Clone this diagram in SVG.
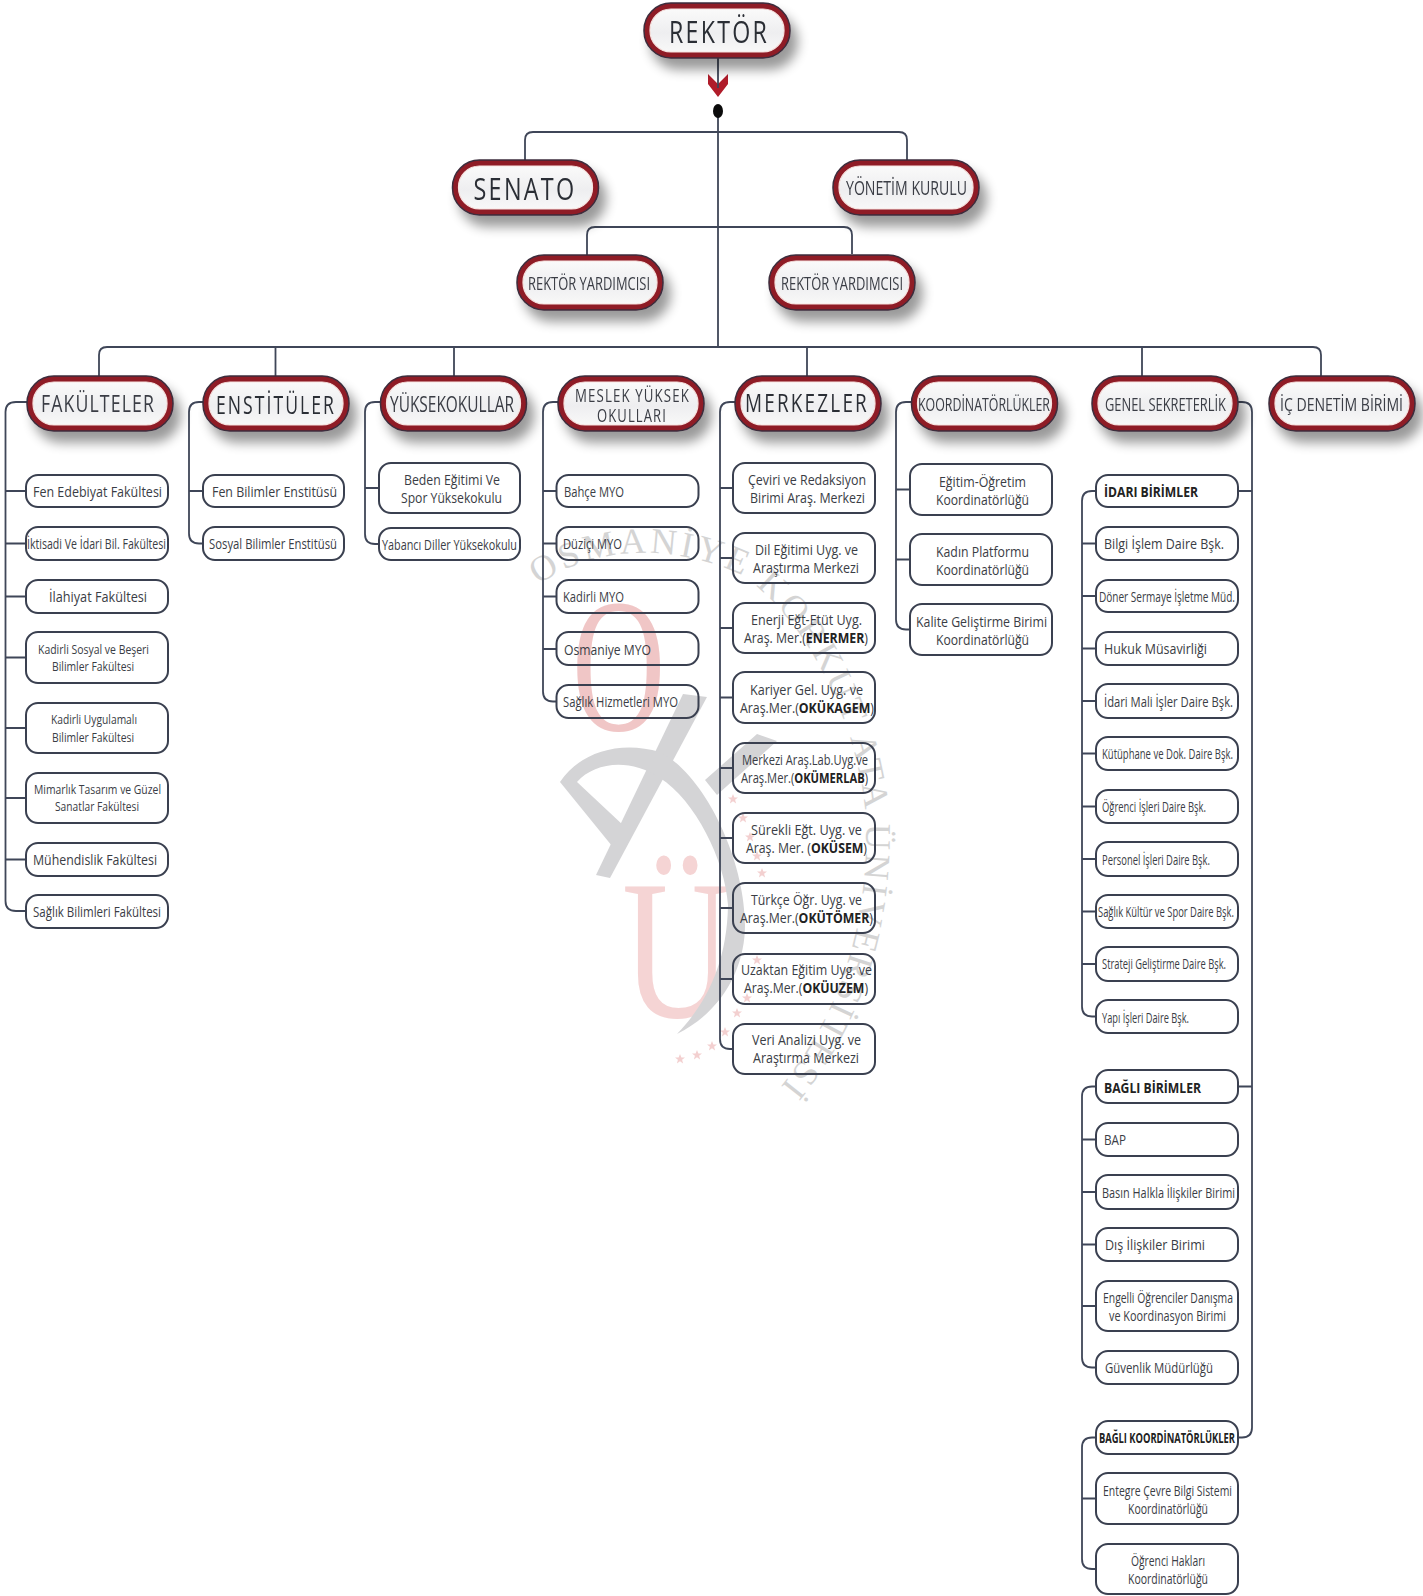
<svg xmlns="http://www.w3.org/2000/svg" xmlns:xlink="http://www.w3.org/1999/xlink" width="1423" height="1596" viewBox="0 0 1423 1596">
<style>
text{font-family:"Open Sans","Noto Sans","Liberation Sans",sans-serif;fill:#3a3d45}
.b{fill:#2b2e35;letter-spacing:3px}
.t{letter-spacing:1.5px}
.l{font-size:14.5px}
.s{font-size:13.5px}
.lead{fill:none;stroke:#3a4050;stroke-width:2}
.c{fill:none;stroke:#3f4658;stroke-width:1.8}
.o{fill:#8f1a26;stroke:#3c2d3c;stroke-width:1.5}
.i{fill:url(#g);stroke:#f7e4e0;stroke-width:1.2}
text.wm{font-family:"Liberation Serif",serif}
text.wo{fill:#f0c6c6}
text.wu{fill:#f5d4d4}
text.wr{fill:#d4d4d4;letter-spacing:3.5px;font-size:36px}
.st{fill:#f3d0d0}
tspan.h{font-weight:700;fill:#222}
</style>
<defs>
<linearGradient id="g" x1="0" y1="0" x2="0" y2="1"><stop offset="0" stop-color="#fafafa"/><stop offset=".55" stop-color="#eeeef0"/><stop offset="1" stop-color="#f8f8f8"/></linearGradient>
<filter id="sh" x="-20%" y="-30%" width="150%" height="190%"><feGaussianBlur in="SourceAlpha" stdDeviation="6"/><feOffset dx="7" dy="11"/><feComponentTransfer><feFuncA type="linear" slope=".4"/></feComponentTransfer><feMerge><feMergeNode/><feMergeNode in="SourceGraphic"/></feMerge></filter>
<rect id="bigo" width="146" height="55" rx="27" class="o"/>
<rect id="bigi" x="6" y="6" width="134" height="43" rx="21" class="i"/>
<polygon id="star" points="0,-5 1.4,-1.5 5,-1.5 2.1,.7 3.1,4.5 0,2.2 -3.1,4.5 -2.1,.7 -5,-1.5 -1.4,-1.5"/>
<path id="arc" d="M532 590 C580 550 660 540 735 572 C805 610 862 730 866 825 C868 925 840 1015 778 1090"/>
</defs>
<rect width="1423" height="1596" fill="#fff"/>

<g id="watermark">
<text class="wm wo" font-size="190" transform="translate(572 730) scale(.68 1)">O</text>
<text class="wm wu" font-size="200" transform="translate(622 1017) scale(.76 1)">Ü</text>
<g fill="#d4d4d6">
<path d="M683 694 L707 697 L610 878 L596 875 Z"/>
<path d="M757 734 L777 741 L717 795 L705 780 Z"/>
<path d="M560 782 C580 752 620 740 660 752 C705 775 745 860 745 925 C745 965 725 1010 677 1034 C705 1005 727 965 728 905 C725 860 695 800 660 778 C630 758 595 762 577 782 L624 826 L612 846 Z"/>
</g>
<text class="wm wr"><textPath href="#arc" xlink:href="#arc" startOffset="8">OSMANİYE KORKUT ATA ÜNİVERSİTESİ</textPath></text>
<g class="st">
<use href="#star" x="680" y="1059"/><use href="#star" x="697" y="1055"/><use href="#star" x="712" y="1046"/><use href="#star" x="725" y="1032"/><use href="#star" x="737" y="1013"/><use href="#star" x="747" y="998"/><use href="#star" x="757" y="960"/><use href="#star" x="733" y="799"/><use href="#star" x="743" y="818"/><use href="#star" x="750" y="837"/><use href="#star" x="757" y="856"/><use href="#star" x="762" y="873"/>
</g>
</g>

<g id="connectors">
<path fill="#b01c2a" d="M708 74L718 84L728 74V84L718 97L708 84Z"/>
<path class="c" d="M718 57V88M718 105V347"/>
<path class="c" d="M525 160V140Q525 132 533 132H899Q907 132 907 140V160"/>
<path class="c" d="M587 255V235Q587 227 595 227H844Q852 227 852 235V254"/>
<path class="c" d="M99 376V355Q99 347 107 347H1313Q1321 347 1321 355V376M275.500 347V376M454 347V376M807 347V376M1142 347V376"/>
<path class="c" d="M27 402H16Q5.500 402 5.500 412V901Q5.500 911 16 911H26M5.500 491H26M5.500 543.500H26M5.500 596.500H26M5.500 657.500H26M5.500 728H26M5.500 798H26M5.500 859.500H26"/>
<path class="c" d="M203 402H199Q189 402 189 412V533.500Q189 543.500 199 543.500H203M189 491H203"/>
<path class="c" d="M381 402H375Q365 402 365 412V534Q365 544 375 544H379M365 488H379"/>
<path class="c" d="M558 402H553Q543 402 543 412V691.500Q543 701.500 553 701.500H556.500M543 491H556.500M543 543.500H556.500M543 596.500H556.500M543 649H556.500"/>
<path class="c" d="M735 402H730Q720 402 720 412V1039Q720 1049 730 1049H733M720 488H733M720 558H733M720 628H733M720 697.500H733M720 768H733M720 838H733M720 908H733M720 979H733"/>
<path class="c" d="M912 402H906Q896 402 896 412V619.500Q896 629.500 906 629.500H910M896 489.500H910M896 559.500H910"/>
<path class="c" d="M1238 402H1242Q1252 402 1252 412V1427.500Q1252 1437.500 1242 1437.500H1238M1238 491H1252M1238 1086.500H1252"/>
<path class="c" d="M1096 491H1092Q1082 491 1082 501V1006.500Q1082 1016.500 1092 1016.500H1096M1082 543.500H1096M1082 596H1096M1082 648.500H1096M1082 701H1096M1082 753.500H1096M1082 806.500H1096M1082 859H1096M1082 911.500H1096M1082 964H1096"/>
<path class="c" d="M1096 1086.500H1092Q1082 1086.500 1082 1096.500V1357.500Q1082 1367.500 1092 1367.500H1096M1082 1139.500H1096M1082 1192H1096M1082 1244.500H1096M1082 1306H1096"/>
<path class="c" d="M1096 1437.500H1092Q1082 1437.500 1082 1447.500V1559Q1082 1569 1092 1569H1096M1082 1498.500H1096"/>
<ellipse cx="718" cy="111" rx="5" ry="7" fill="#0b0b0b"/>
</g>

<g id="rektor" filter="url(#sh)" transform="translate(644 3)"><use href="#bigo"/><use href="#bigi"/><text x="25" y="40" font-size="31" textLength="100" lengthAdjust="spacingAndGlyphs" class="b">REKTÖR</text></g>
<g id="senato" filter="url(#sh)" transform="translate(452.500 160)"><use href="#bigo"/><use href="#bigi"/><text x="21" y="40" font-size="31" textLength="103" lengthAdjust="spacingAndGlyphs" class="b">SENATO</text></g>
<g id="yonetim" filter="url(#sh)" transform="translate(833 160)"><use href="#bigo"/><use href="#bigi"/><text x="13" y="35" font-size="20" textLength="121" lengthAdjust="spacingAndGlyphs">YÖNETİM KURULU</text></g>
<g id="ry1" filter="url(#sh)" transform="translate(517 255)"><use href="#bigo"/><use href="#bigi"/><text x="11" y="35" font-size="19" textLength="122" lengthAdjust="spacingAndGlyphs">REKTÖR YARDIMCISI</text></g>
<g id="ry2" filter="url(#sh)" transform="translate(769 255)"><use href="#bigo"/><use href="#bigi"/><text x="12" y="35" font-size="19" textLength="122" lengthAdjust="spacingAndGlyphs">REKTÖR YARDIMCISI</text></g>

<g id="fakulteler" filter="url(#sh)" transform="translate(27 376)"><use href="#bigo"/><use href="#bigi"/><text x="14" y="36" font-size="24" textLength="114" lengthAdjust="spacingAndGlyphs" class="t">FAKÜLTELER</text></g>
<g id="enstituler" filter="url(#sh)" transform="translate(203 376)"><use href="#bigo"/><use href="#bigi"/><text x="13" y="38" font-size="26" textLength="120" lengthAdjust="spacingAndGlyphs" class="b">ENSTİTÜLER</text></g>
<g id="yuksekokullar" filter="url(#sh)" transform="translate(380.500 376)"><use href="#bigo"/><use href="#bigi"/><text x="9.500" y="36" font-size="22" textLength="124" lengthAdjust="spacingAndGlyphs">YÜKSEKOKULLAR</text></g>
<g id="meslek" filter="url(#sh)" transform="translate(558 376)"><use href="#bigo"/><use href="#bigi"/><text x="17" y="26" font-size="17.500" textLength="115" lengthAdjust="spacingAndGlyphs" class="t">MESLEK YÜKSEK</text><text x="39" y="46" font-size="17.500" textLength="70" lengthAdjust="spacingAndGlyphs" class="t">OKULLARI</text></g>
<g id="merkezler" filter="url(#sh)" transform="translate(735 376)"><use href="#bigo"/><use href="#bigi"/><text x="10" y="36" font-size="26" textLength="124" lengthAdjust="spacingAndGlyphs" class="b">MERKEZLER</text></g>
<g id="koordinatorlukler" filter="url(#sh)" transform="translate(911.500 376)"><use href="#bigo"/><use href="#bigi"/><text x="6.500" y="35" font-size="19" textLength="132" lengthAdjust="spacingAndGlyphs">KOORDİNATÖRLÜKLER</text></g>
<g id="genel" filter="url(#sh)" transform="translate(1092 376)"><use href="#bigo"/><use href="#bigi"/><text x="13" y="35" font-size="19" textLength="121" lengthAdjust="spacingAndGlyphs">GENEL SEKRETERLİK</text></g>
<g id="ic" filter="url(#sh)" transform="translate(1269 376)"><use href="#bigo"/><use href="#bigi"/><text x="11" y="35" font-size="19" textLength="123" lengthAdjust="spacingAndGlyphs">İÇ DENETİM BİRİMİ</text></g>

<g id="f1"><rect class="lead" x="26" y="475" width="142" height="32" rx="12"/><text class="l" x="33" y="497" textLength="129" lengthAdjust="spacingAndGlyphs">Fen Edebiyat Fakültesi</text></g>
<g id="f2"><rect class="lead" x="26" y="527" width="142" height="33" rx="12"/><text class="l" x="27" y="549" textLength="139" lengthAdjust="spacingAndGlyphs">İktisadi Ve İdari Bil. Fakültesi</text></g>
<g id="f3"><rect class="lead" x="26" y="580" width="142" height="33" rx="12"/><text class="l" x="49" y="602" textLength="98" lengthAdjust="spacingAndGlyphs">İlahiyat Fakültesi</text></g>
<g id="f4"><rect class="lead" x="26" y="632" width="142" height="51" rx="12"/><text class="s" x="38" y="654" textLength="111" lengthAdjust="spacingAndGlyphs">Kadirli Sosyal ve Beşeri</text><text class="s" x="52" y="671" textLength="82" lengthAdjust="spacingAndGlyphs">Bilimler Fakültesi</text></g>
<g id="f5"><rect class="lead" x="26" y="703" width="142" height="50" rx="12"/><text class="s" x="51" y="724" textLength="86" lengthAdjust="spacingAndGlyphs">Kadirli Uygulamalı</text><text class="s" x="52" y="742" textLength="82" lengthAdjust="spacingAndGlyphs">Bilimler Fakültesi</text></g>
<g id="f6"><rect class="lead" x="26" y="773" width="142" height="50" rx="12"/><text class="s" x="34" y="794" textLength="127" lengthAdjust="spacingAndGlyphs">Mimarlık Tasarım ve Güzel</text><text class="s" x="55" y="811" textLength="84" lengthAdjust="spacingAndGlyphs">Sanatlar Fakültesi</text></g>
<g id="f7"><rect class="lead" x="26" y="843" width="142" height="33" rx="12"/><text class="l" x="33" y="865" textLength="124" lengthAdjust="spacingAndGlyphs">Mühendislik Fakültesi</text></g>
<g id="f8"><rect class="lead" x="26" y="895" width="142" height="33" rx="12"/><text class="l" x="33" y="917" textLength="128" lengthAdjust="spacingAndGlyphs">Sağlık Bilimleri Fakültesi</text></g>

<g id="e1"><rect class="lead" x="203" y="475" width="141" height="32" rx="12"/><text class="l" x="212" y="497" textLength="125" lengthAdjust="spacingAndGlyphs">Fen Bilimler Enstitüsü</text></g>
<g id="e2"><rect class="lead" x="203" y="527" width="141" height="33" rx="12"/><text class="l" x="209" y="549" textLength="128" lengthAdjust="spacingAndGlyphs">Sosyal Bilimler Enstitüsü</text></g>

<g id="y1"><rect class="lead" x="379" y="463" width="141" height="50" rx="12"/><text class="l" x="404" y="485" textLength="96" lengthAdjust="spacingAndGlyphs">Beden Eğitimi Ve</text><text class="l" x="401" y="503" textLength="101" lengthAdjust="spacingAndGlyphs">Spor Yüksekokulu</text></g>
<g id="y2"><rect class="lead" x="379" y="528" width="141" height="32" rx="12"/><text class="l" x="382" y="550" textLength="135" lengthAdjust="spacingAndGlyphs">Yabancı Diller Yüksekokulu</text></g>

<g id="m1"><rect class="lead" x="556.500" y="475" width="142" height="32" rx="12"/><text class="l" x="564" y="497" textLength="60" lengthAdjust="spacingAndGlyphs">Bahçe MYO</text></g>
<g id="m2"><rect class="lead" x="556.500" y="527" width="142" height="33" rx="12"/><text class="l" x="563" y="549" textLength="59" lengthAdjust="spacingAndGlyphs">Düziçi MYO</text></g>
<g id="m3"><rect class="lead" x="556.500" y="580" width="142" height="33" rx="12"/><text class="l" x="563" y="602" textLength="61" lengthAdjust="spacingAndGlyphs">Kadirli MYO</text></g>
<g id="m4"><rect class="lead" x="556.500" y="632" width="142" height="33" rx="12"/><text class="l" x="564" y="655" textLength="87" lengthAdjust="spacingAndGlyphs">Osmaniye MYO</text></g>
<g id="m5"><rect class="lead" x="556.500" y="685" width="142" height="33" rx="12"/><text class="l" x="563" y="707" textLength="115" lengthAdjust="spacingAndGlyphs">Sağlık Hizmetleri MYO</text></g>

<g id="c1"><rect class="lead" x="733" y="463" width="142" height="50" rx="12"/><text class="l" x="748" y="485" textLength="118" lengthAdjust="spacingAndGlyphs">Çeviri ve Redaksiyon</text><text class="l" x="750" y="503" textLength="115" lengthAdjust="spacingAndGlyphs">Birimi Araş. Merkezi</text></g>
<g id="c2"><rect class="lead" x="733" y="533" width="142" height="50" rx="12"/><text class="l" x="755" y="555" textLength="103" lengthAdjust="spacingAndGlyphs">Dil Eğitimi Uyg. ve</text><text class="l" x="753" y="573" textLength="106" lengthAdjust="spacingAndGlyphs">Araştırma Merkezi</text></g>
<g id="c3"><rect class="lead" x="733" y="603" width="142" height="50" rx="12"/><text class="l" x="751" y="625" textLength="111" lengthAdjust="spacingAndGlyphs">Enerji Eğt-Etüt Uyg.</text><text class="l" x="744" y="643" textLength="124" lengthAdjust="spacingAndGlyphs">Araş. Mer.(<tspan class="h">ENERMER</tspan>)</text></g>
<g id="c4"><rect class="lead" x="733" y="672" width="142" height="51" rx="12"/><text class="l" x="750" y="695" textLength="113" lengthAdjust="spacingAndGlyphs">Kariyer Gel. Uyg. ve</text><text class="l" x="740" y="713" textLength="134" lengthAdjust="spacingAndGlyphs">Araş.Mer.(<tspan class="h">OKÜKAGEM</tspan>)</text></g>
<g id="c5"><rect class="lead" x="733" y="743" width="142" height="50" rx="12"/><text class="l" x="742" y="765" textLength="126" lengthAdjust="spacingAndGlyphs">Merkezi Araş.Lab.Uyg.ve</text><text class="l" x="741" y="783" textLength="127" lengthAdjust="spacingAndGlyphs">Araş.Mer.(<tspan class="h">OKÜMERLAB</tspan>)</text></g>
<g id="c6"><rect class="lead" x="733" y="813" width="142" height="50" rx="12"/><text class="l" x="751" y="835" textLength="111" lengthAdjust="spacingAndGlyphs">Sürekli Eğt. Uyg. ve</text><text class="l" x="746" y="853" textLength="121" lengthAdjust="spacingAndGlyphs">Araş. Mer. (<tspan class="h">OKÜSEM</tspan>)</text></g>
<g id="c7"><rect class="lead" x="733" y="883" width="142" height="50" rx="12"/><text class="l" x="751" y="905" textLength="111" lengthAdjust="spacingAndGlyphs">Türkçe Öğr. Uyg. ve</text><text class="l" x="740" y="923" textLength="133" lengthAdjust="spacingAndGlyphs">Araş.Mer.(<tspan class="h">OKÜTÖMER</tspan>)</text></g>
<g id="c8"><rect class="lead" x="733" y="954" width="142" height="50" rx="12"/><text class="l" x="741" y="975" textLength="131" lengthAdjust="spacingAndGlyphs">Uzaktan Eğitim Uyg. ve</text><text class="l" x="744" y="993" textLength="124" lengthAdjust="spacingAndGlyphs">Araş.Mer.(<tspan class="h">OKÜUZEM</tspan>)</text></g>
<g id="c9"><rect class="lead" x="733" y="1024" width="142" height="50" rx="12"/><text class="l" x="752" y="1045" textLength="109" lengthAdjust="spacingAndGlyphs">Veri Analizi Uyg. ve</text><text class="l" x="753" y="1063" textLength="106" lengthAdjust="spacingAndGlyphs">Araştırma Merkezi</text></g>

<g id="k1"><rect class="lead" x="910" y="464" width="142" height="51" rx="12"/><text class="l" x="939" y="487" textLength="87" lengthAdjust="spacingAndGlyphs">Eğitim-Öğretim</text><text class="l" x="936" y="505" textLength="93" lengthAdjust="spacingAndGlyphs">Koordinatörlüğü</text></g>
<g id="k2"><rect class="lead" x="910" y="534" width="142" height="51" rx="12"/><text class="l" x="936" y="557" textLength="93" lengthAdjust="spacingAndGlyphs">Kadın Platformu</text><text class="l" x="936" y="575" textLength="93" lengthAdjust="spacingAndGlyphs">Koordinatörlüğü</text></g>
<g id="k3"><rect class="lead" x="910" y="604" width="142" height="51" rx="12"/><text class="l" x="916" y="627" textLength="131" lengthAdjust="spacingAndGlyphs">Kalite Geliştirme Birimi</text><text class="l" x="936" y="645" textLength="93" lengthAdjust="spacingAndGlyphs">Koordinatörlüğü</text></g>

<g id="g0"><rect class="lead" x="1096" y="475" width="142" height="32" rx="12"/><text class="l" x="1104" y="497" textLength="94" lengthAdjust="spacingAndGlyphs"><tspan class="h">İDARI BİRİMLER</tspan></text></g>
<g id="g1"><rect class="lead" x="1096" y="527" width="142" height="33" rx="12"/><text class="l" x="1104" y="549" textLength="120" lengthAdjust="spacingAndGlyphs">Bilgi İşlem Daire Bşk.</text></g>
<g id="g2"><rect class="lead" x="1096" y="580" width="142" height="32" rx="12"/><text class="l" x="1099" y="602" textLength="136" lengthAdjust="spacingAndGlyphs">Döner Sermaye İşletme Müd.</text></g>
<g id="g3"><rect class="lead" x="1096" y="632" width="142" height="33" rx="12"/><text class="l" x="1104" y="654" textLength="103" lengthAdjust="spacingAndGlyphs">Hukuk Müsavirliği</text></g>
<g id="g4"><rect class="lead" x="1096" y="684" width="142" height="34" rx="12"/><text class="l" x="1104" y="707" textLength="129" lengthAdjust="spacingAndGlyphs">İdari Mali İşler Daire Bşk.</text></g>
<g id="g5"><rect class="lead" x="1096" y="737" width="142" height="33" rx="12"/><text class="l" x="1102" y="759" textLength="131" lengthAdjust="spacingAndGlyphs">Kütüphane ve Dok. Daire Bşk.</text></g>
<g id="g6"><rect class="lead" x="1096" y="790" width="142" height="33" rx="12"/><text class="l" x="1102" y="812" textLength="104" lengthAdjust="spacingAndGlyphs">Öğrenci İşleri Daire Bşk.</text></g>
<g id="g7"><rect class="lead" x="1096" y="842" width="142" height="34" rx="12"/><text class="l" x="1102" y="865" textLength="108" lengthAdjust="spacingAndGlyphs">Personel İşleri Daire Bşk.</text></g>
<g id="g8"><rect class="lead" x="1096" y="895" width="142" height="33" rx="12"/><text class="l" x="1098" y="917" textLength="136" lengthAdjust="spacingAndGlyphs">Sağlık Kültür ve Spor Daire Bşk.</text></g>
<g id="g9"><rect class="lead" x="1096" y="947" width="142" height="34" rx="12"/><text class="l" x="1102" y="969" textLength="124" lengthAdjust="spacingAndGlyphs">Strateji Geliştirme Daire Bşk.</text></g>
<g id="g10"><rect class="lead" x="1096" y="1000" width="142" height="33" rx="12"/><text class="l" x="1102" y="1023" textLength="87" lengthAdjust="spacingAndGlyphs">Yapı İşleri Daire Bşk.</text></g>

<g id="b0"><rect class="lead" x="1096" y="1070" width="142" height="33" rx="12"/><text class="l" x="1104" y="1093" textLength="97" lengthAdjust="spacingAndGlyphs"><tspan class="h">BAĞLI BİRİMLER</tspan></text></g>
<g id="b1"><rect class="lead" x="1096" y="1123" width="142" height="33" rx="12"/><text class="l" x="1104" y="1145" textLength="22" lengthAdjust="spacingAndGlyphs">BAP</text></g>
<g id="b2"><rect class="lead" x="1096" y="1175" width="142" height="34" rx="12"/><text class="l" x="1102" y="1198" textLength="133" lengthAdjust="spacingAndGlyphs">Basın Halkla İlişkiler Birimi</text></g>
<g id="b3"><rect class="lead" x="1096" y="1228" width="142" height="33" rx="12"/><text class="l" x="1105" y="1250" textLength="100" lengthAdjust="spacingAndGlyphs">Dış İlişkiler Birimi</text></g>
<g id="b4"><rect class="lead" x="1096" y="1281" width="142" height="50" rx="12"/><text class="l" x="1103" y="1303" textLength="130" lengthAdjust="spacingAndGlyphs">Engelli Öğrenciler Danışma</text><text class="l" x="1109" y="1321" textLength="117" lengthAdjust="spacingAndGlyphs">ve Koordinasyon Birimi</text></g>
<g id="b5"><rect class="lead" x="1096" y="1351" width="142" height="33" rx="12"/><text class="l" x="1105" y="1373" textLength="108" lengthAdjust="spacingAndGlyphs">Güvenlik Müdürlüğü</text></g>

<g id="bk0"><rect class="lead" x="1096" y="1421" width="142" height="33" rx="12"/><text class="l" x="1099" y="1443" textLength="136" lengthAdjust="spacingAndGlyphs"><tspan class="h">BAĞLI KOORDİNATÖRLÜKLER</tspan></text></g>
<g id="bk1"><rect class="lead" x="1096" y="1473" width="142" height="51" rx="12"/><text class="l" x="1103" y="1496" textLength="129" lengthAdjust="spacingAndGlyphs">Entegre Çevre Bilgi Sistemi</text><text class="l" x="1128" y="1514" textLength="80" lengthAdjust="spacingAndGlyphs">Koordinatörlüğü</text></g>
<g id="bk2"><rect class="lead" x="1096" y="1544" width="142" height="50" rx="12"/><text class="l" x="1131" y="1566" textLength="74" lengthAdjust="spacingAndGlyphs">Öğrenci Hakları</text><text class="l" x="1128" y="1584" textLength="80" lengthAdjust="spacingAndGlyphs">Koordinatörlüğü</text></g>
</svg>
